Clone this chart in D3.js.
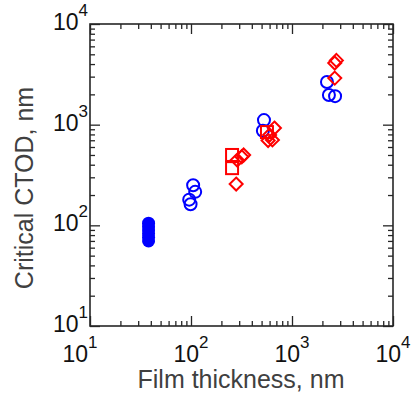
<!DOCTYPE html>
<html>
<head>
<meta charset="utf-8">
<script src="https://cdn.jsdelivr.net/npm/d3@7"></script>
<style>
  body { margin: 0; background: #fff; }
  text { font-family: "Liberation Sans", Arial, sans-serif; }
</style>
</head>
<body>
<svg width="411" height="394"></svg>
<script>
// film thickness (nm) / critical CTOD (nm)
var blueFilledX = [38, 38, 38, 38, 38, 38];
var blueFilledY = [105, 97, 90, 83, 76, 70];

var blueOpenX = [105, 110, 96, 99, 528, 515, 2220, 2320, 2670];
var blueOpenY = [250, 215, 180, 162, 1110, 870, 2650, 1970, 1920];

var redSquareX = [255, 255, 565];
var redSquareY = [500, 370, 844];

var redDiamondX = [280, 287, 318, 332, 670, 640, 580, 600, 2750, 2650, 2650];
var redDiamondY = [257, 445, 480, 500, 925, 705, 695, 790, 4350, 4100, 2900];

var decades = [1, 2, 3, 4];

var svg = d3.select("svg"),
	plotLeft = 90, plotRight = 393, plotTop = 24, plotBottom = 326;

var x = d3.scaleLog().domain([10, 1e4]).range([plotLeft, plotRight]),
	y = d3.scaleLog().domain([10, 1e4]).range([plotBottom, plotTop]);

var axisColor = "#262626";

function isMajor(d) { return Math.abs(Math.log10(d) - Math.round(Math.log10(d))) < 1e-9; }

// inward ticks: major 10px, minor 5px
function styleAxis(g, horizontal, sign) {
	g.select(".domain").remove();
	g.selectAll(".tick line")
		.attr("stroke", axisColor)
		.attr("stroke-width", 1.3)
		.each(function(d) {
			var len = isMajor(d) ? 10 : 5;
			d3.select(this).attr(horizontal ? "y2" : "x2", sign * len);
		});
	g.selectAll(".tick text").remove();
}

var ticks = x.ticks();

svg.append("g").attr("transform", "translate(0," + plotBottom + ")")
	.call(d3.axisBottom(x).tickValues(ticks)).call(styleAxis, true, -1);
svg.append("g").attr("transform", "translate(0," + plotTop + ")")
	.call(d3.axisTop(x).tickValues(ticks)).call(styleAxis, true, 1);
svg.append("g").attr("transform", "translate(" + plotLeft + ",0)")
	.call(d3.axisLeft(y).tickValues(ticks)).call(styleAxis, false, 1);
svg.append("g").attr("transform", "translate(" + plotRight + ",0)")
	.call(d3.axisRight(y).tickValues(ticks)).call(styleAxis, false, -1);

svg.append("rect")
	.attr("x", plotLeft).attr("y", plotTop)
	.attr("width", plotRight - plotLeft).attr("height", plotBottom - plotTop)
	.attr("fill", "none").attr("stroke", axisColor).attr("stroke-width", 1.6);

// tick labels 10^k
decades.forEach(function(k, i) {
	var t = svg.append("text")
		.attr("x", x(Math.pow(10, k)) + (i === 0 ? -10 : 0))
		.attr("y", 362)
		.attr("text-anchor", "middle")
		.attr("font-size", 23).attr("fill", "#111");
	t.append("tspan").text("10");
	t.append("tspan").attr("font-size", 17).attr("dy", -14).text(k);

	var ty = svg.append("text")
		.attr("x", 88)
		.attr("y", y(Math.pow(10, k)) + 6)
		.attr("text-anchor", "end")
		.attr("font-size", 23).attr("fill", "#111");
	ty.append("tspan").text("10");
	ty.append("tspan").attr("font-size", 17).attr("dy", -14).text(k);
});

svg.append("text")
	.attr("x", 241).attr("y", 388)
	.attr("text-anchor", "middle")
	.attr("font-size", 25).attr("fill", "#404040")
	.text("Film thickness, nm");

svg.append("text")
	.attr("transform", "translate(33,188) rotate(-90)")
	.attr("text-anchor", "middle")
	.attr("font-size", 25).attr("fill", "#404040")
	.text("Critical CTOD, nm");

// markers
var plot = svg.append("g");

plot.selectAll(".bf").data(blueFilledX).enter().append("circle")
	.attr("cx", d => x(d)).attr("cy", (d, i) => y(blueFilledY[i]))
	.attr("r", 6.5).attr("fill", "#0000ff");

plot.selectAll(".bo").data(blueOpenX).enter().append("circle")
	.attr("cx", d => x(d)).attr("cy", (d, i) => y(blueOpenY[i]))
	.attr("r", 6).attr("fill", "none")
	.attr("stroke", "#0000ff").attr("stroke-width", 2);

plot.selectAll(".rs").data(redSquareX).enter().append("rect")
	.attr("x", d => x(d) - 6).attr("y", (d, i) => y(redSquareY[i]) - 6)
	.attr("width", 12).attr("height", 12).attr("fill", "none")
	.attr("stroke", "#ff0000").attr("stroke-width", 2);

plot.selectAll(".rd").data(redDiamondX).enter().append("path")
	.attr("transform", (d, i) => "translate(" + x(d) + "," + y(redDiamondY[i]) + ")")
	.attr("d", "M0,-6.5L6.5,0L0,6.5L-6.5,0Z").attr("fill", "none")
	.attr("stroke", "#ff0000").attr("stroke-width", 2);
</script>
</body>
</html>
